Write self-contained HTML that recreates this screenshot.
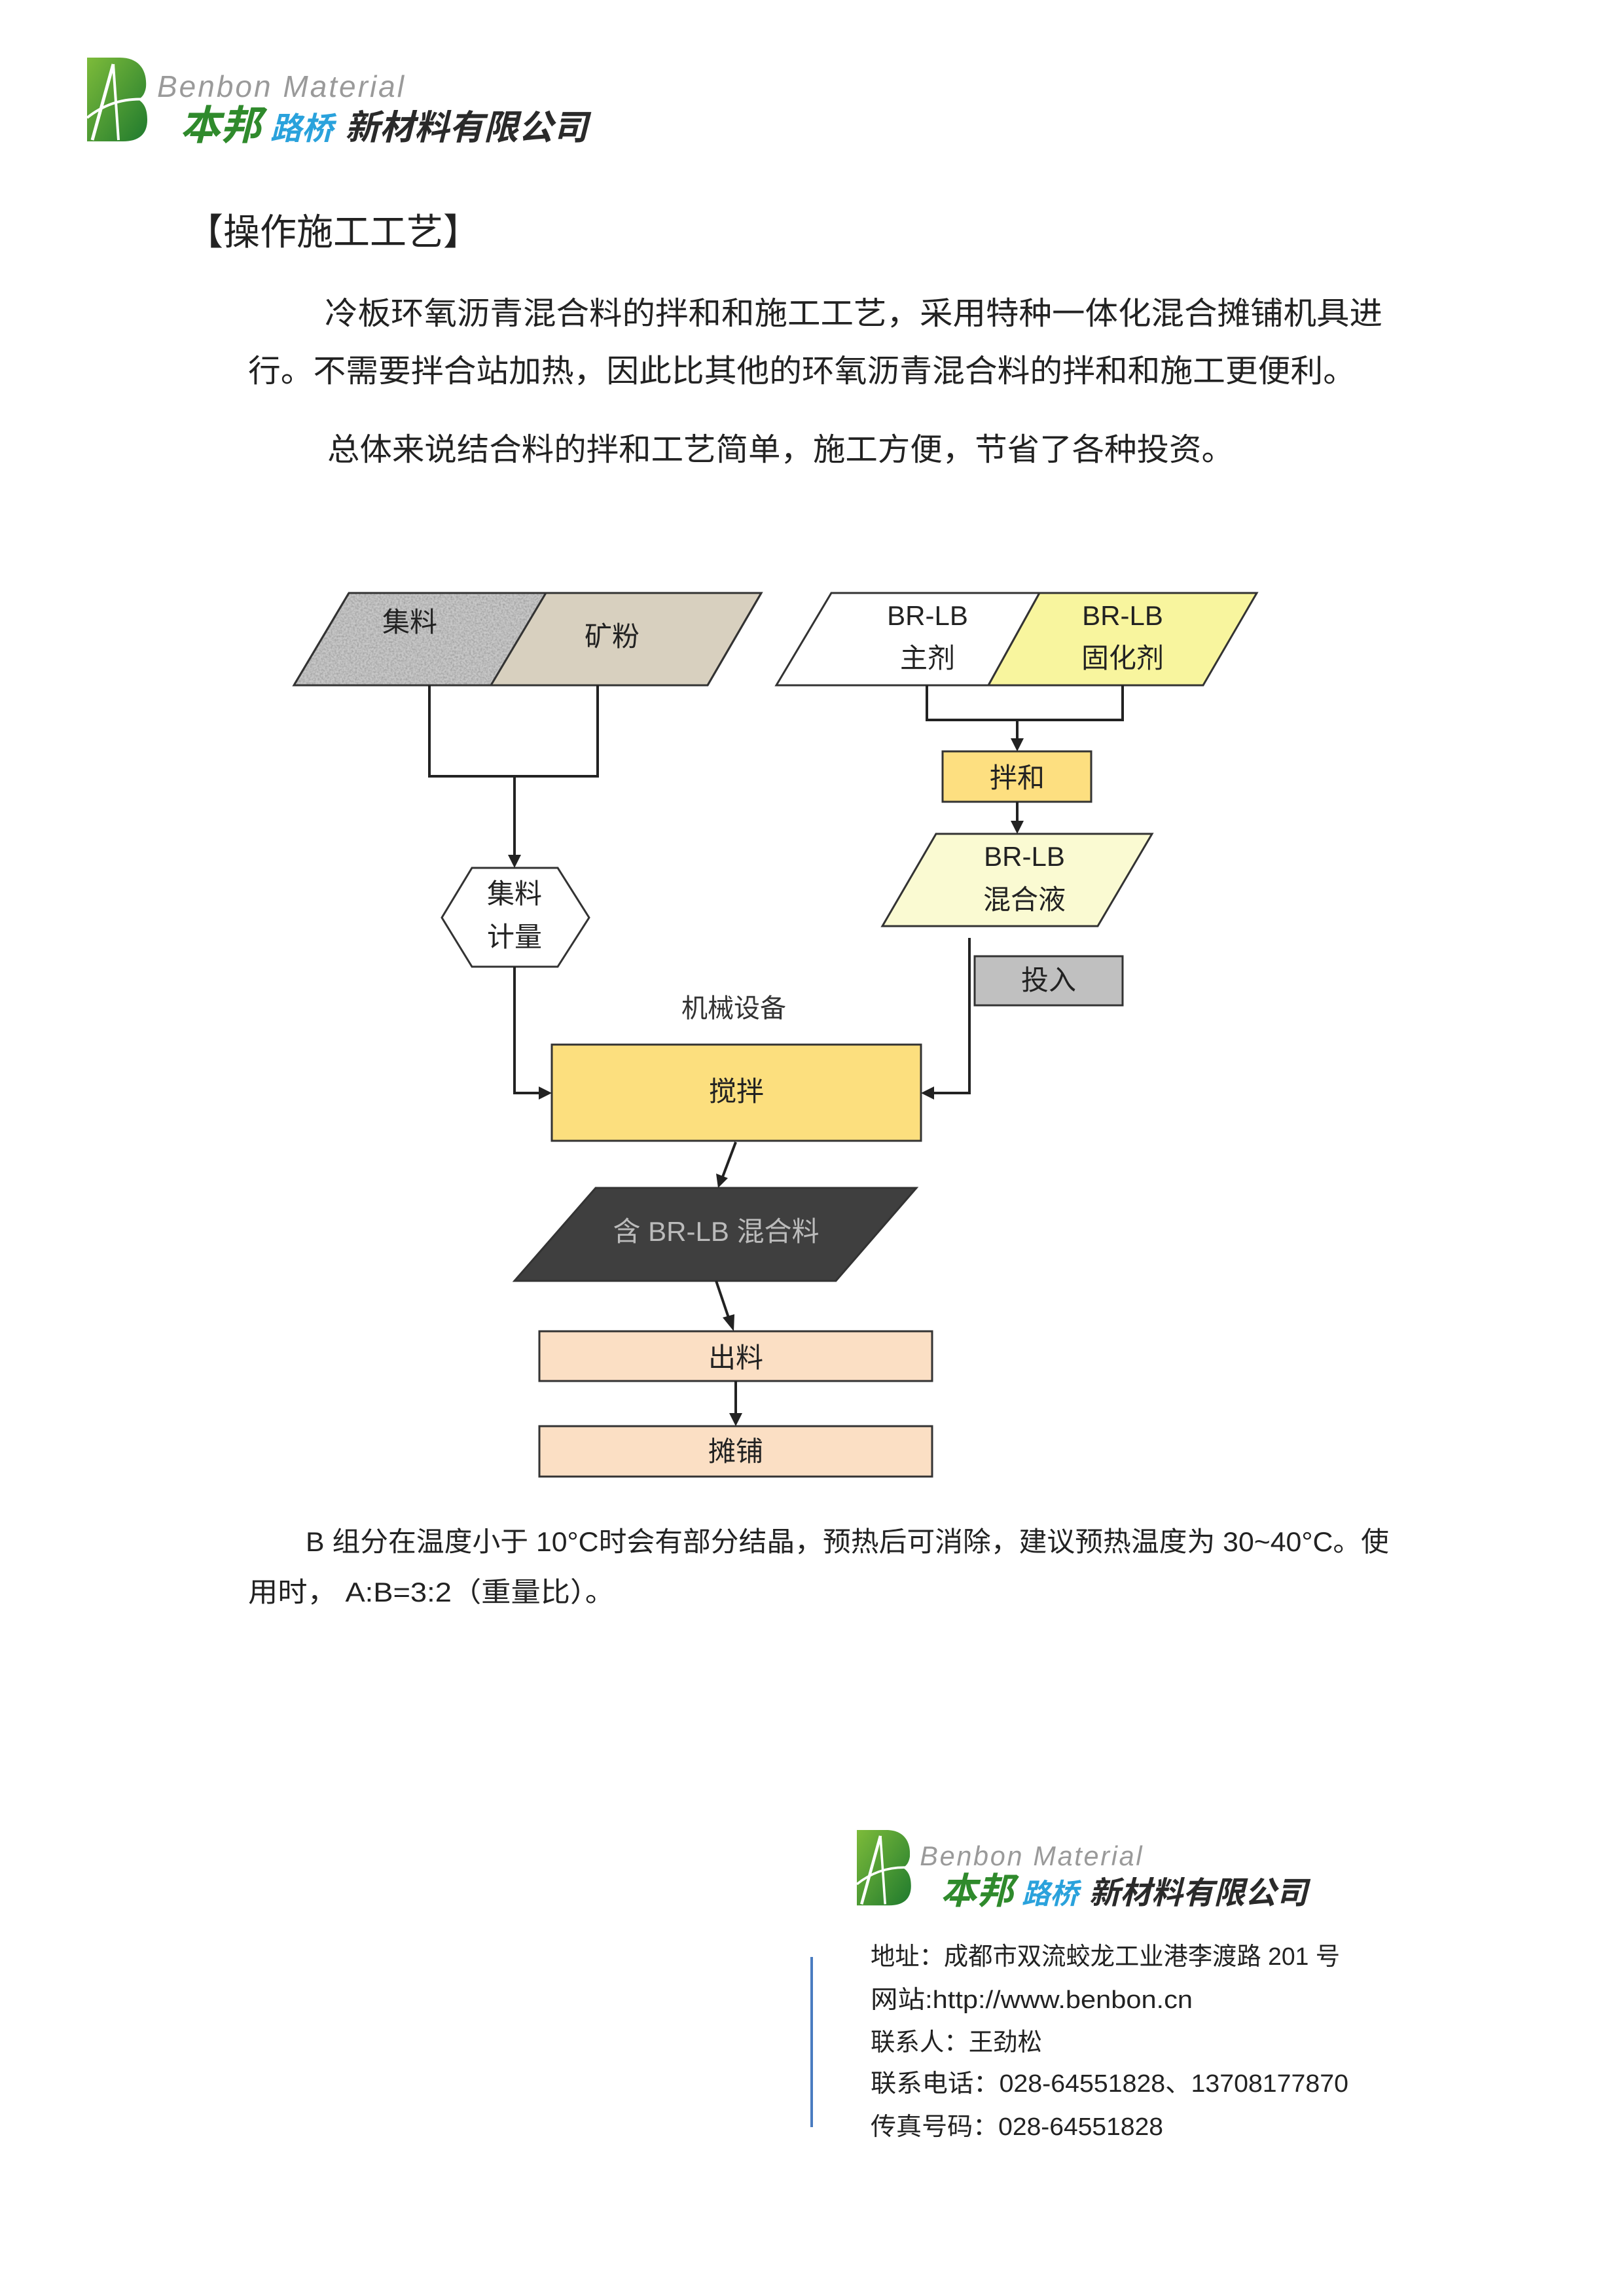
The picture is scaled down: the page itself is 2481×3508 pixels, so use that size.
<!DOCTYPE html>
<html><head><meta charset="utf-8"><style>
html,body{margin:0;padding:0;background:#fff}
svg{display:block}
text{font-family:"Liberation Sans","Noto Sans CJK SC",sans-serif}
</style></head><body>
<svg width="2481" height="3508" viewBox="0 0 2481 3508" xmlns="http://www.w3.org/2000/svg">
<defs>
<linearGradient id="lg" x1="0" y1="0" x2="1" y2="1"><stop offset="0" stop-color="#7dbb3a"/><stop offset="1" stop-color="#1f7a2e"/></linearGradient>
<filter id="gran" x="0" y="0" width="100%" height="100%">
<feTurbulence type="fractalNoise" baseFrequency="0.35" numOctaves="2" seed="3"/>
<feColorMatrix type="matrix" values="0 0 0 0 0.55  0 0 0 0 0.55  0 0 0 0 0.55  0 0 0 -1.6 1.1"/>
<feComposite in2="SourceGraphic" operator="in"/>
<feBlend in2="SourceGraphic" mode="multiply"/>
</filter>
<g id="logo">
  <path d="M0,0 H50 C80,0 92,20 90,45 C88,58 82,62 78,64 C88,70 92,80 92,95 C92,118 78,128 55,128 H0 Z" fill="url(#lg)"/>
  <path d="M8,126 L40,10" stroke="#fff" stroke-width="5" fill="none"/>
  <path d="M40,10 L48,126" stroke="#fff" stroke-width="4" fill="none"/>
  <path d="M0,92 Q40,60 92,64" stroke="#fff" stroke-width="4" fill="none"/>
  <text x="107" y="60" font-size="46" font-style="italic" fill="#9a9a9a" letter-spacing="3">Benbon Material</text>
  <text x="142" y="125" font-size="62" font-weight="bold" font-style="italic" fill="#2f8a2c">本邦</text>
  <text x="280" y="125" font-size="48" font-weight="bold" font-style="italic" fill="#2aa2dc">路桥</text>
  <text x="394" y="125" font-size="53" font-weight="bold" font-style="italic" fill="#2a2a2a">新材料有限公司</text>
</g>
</defs>

<use href="#logo" x="133" y="88"/>
<g transform="translate(1309,2796) scale(0.9)"><use href="#logo"/></g>

<text x="285" y="374" font-size="56" fill="#222">【操作施工工艺】</text>
<text x="496" y="495" font-size="48" fill="#222" textLength="1616" lengthAdjust="spacingAndGlyphs">冷板环氧沥青混合料的拌和和施工工艺，采用特种一体化混合摊铺机具进</text>
<text x="379" y="583" font-size="48" fill="#222" textLength="1692" lengthAdjust="spacingAndGlyphs">行。不需要拌合站加热，因此比其他的环氧沥青混合料的拌和和施工更便利。</text>
<text x="500" y="703" font-size="48" fill="#222" textLength="1385" lengthAdjust="spacingAndGlyphs">总体来说结合料的拌和工艺简单，施工方便，节省了各种投资。</text>

<g stroke="#333" stroke-width="3">
  <polygon points="533,906 834,906 750,1047 449,1047" fill="#c8c8c8" filter="url(#gran)"/>
  <polygon points="834,906 1163,906 1081,1047 750,1047" fill="#d8d0bf"/>
  <polygon points="533,906 1163,906 1081,1047 449,1047" fill="none"/>
  <polygon points="1270,906 1588,906 1510,1047 1186,1047" fill="#fff"/>
  <polygon points="1588,906 1920,906 1838,1047 1510,1047" fill="#f8f59e"/>
  <rect x="1440" y="1148" width="227" height="77" fill="#fddf80"/>
  <polygon points="1430,1274 1760,1274 1677,1415 1348,1415" fill="#fafad2"/>
  <polygon points="675,1402 721,1326 852,1326 900,1402 852,1477 721,1477" fill="#fff"/>
  <rect x="1489" y="1461" width="226" height="75" fill="#c0c0c0"/>
  <rect x="843" y="1596" width="564" height="147" fill="#fcdf7e"/>
  <polygon points="910,1815 1400,1815 1277,1957 786,1957" fill="#3f3f3f"/>
  <rect x="824" y="2034" width="600" height="76" fill="#fbdfc4"/>
  <rect x="824" y="2179" width="600" height="77" fill="#fbdfc4"/>
</g>
<g stroke="#222" stroke-width="4" fill="none">
  <polyline points="656,1047 656,1186 913,1186 913,1047"/>
  <line x1="786" y1="1186" x2="786" y2="1308"/>
  <polyline points="786,1477 786,1670 825,1670"/>
  <polyline points="1416,1047 1416,1100 1715,1100 1715,1047"/>
  <line x1="1554" y1="1100" x2="1554" y2="1130"/>
  <line x1="1554" y1="1225" x2="1554" y2="1256"/>
  <polyline points="1481,1433 1481,1670 1425,1670"/>
  <line x1="1124" y1="1745" x2="1104" y2="1798"/>
  <line x1="1094" y1="1957" x2="1114" y2="2016"/>
  <line x1="1124" y1="2110" x2="1124" y2="2161"/>
</g>
<g fill="#222">
  <polygon points="776,1306 796,1306 786,1326"/>
  <polygon points="823,1660 823,1680 843,1670"/>
  <polygon points="1544,1128 1564,1128 1554,1148"/>
  <polygon points="1544,1254 1564,1254 1554,1274"/>
  <polygon points="1427,1660 1427,1680 1407,1670"/>
  <polygon points="1094,1793 1112,1800 1097,1815"/>
  <polygon points="1104,2013 1122,2008 1121,2034"/>
  <polygon points="1114,2159 1134,2159 1124,2179"/>
</g>
<g font-size="42" fill="#222" text-anchor="middle">
  <text x="626" y="965">集料</text>
  <text x="935" y="987">矿粉</text>
  <text x="1417" y="955">BR-LB</text>
  <text x="1417" y="1020">主剂</text>
  <text x="1715" y="955">BR-LB</text>
  <text x="1715" y="1020">固化剂</text>
  <text x="1554" y="1203">拌和</text>
  <text x="1565" y="1323">BR-LB</text>
  <text x="1565" y="1389">混合液</text>
  <text x="786" y="1380">集料</text>
  <text x="786" y="1446">计量</text>
  <text x="1602" y="1512">投入</text>
  <text x="1121" y="1554" font-size="40" fill="#333">机械设备</text>
  <text x="1125" y="1682">搅拌</text>
  <text x="1094" y="1896" fill="#bbb">含 BR-LB 混合料</text>
  <text x="1124" y="2089">出料</text>
  <text x="1124" y="2232">摊铺</text>
</g>

<text x="467" y="2370" font-size="42" fill="#222" textLength="1655" lengthAdjust="spacingAndGlyphs">B 组分在温度小于 10°C时会有部分结晶，预热后可消除，建议预热温度为 30~40°C。使</text>
<text x="379" y="2447" font-size="42" fill="#222" textLength="560" lengthAdjust="spacingAndGlyphs">用时，  A:B=3:2（重量比）。</text>

<line x1="1240" y1="2990" x2="1240" y2="3250" stroke="#4a7cc0" stroke-width="4"/>
<g font-size="38" fill="#222">
  <text x="1330" y="3002" textLength="717" lengthAdjust="spacingAndGlyphs">地址：成都市双流蛟龙工业港李渡路 201 号</text>
  <text x="1330" y="3068" textLength="492" lengthAdjust="spacingAndGlyphs">网站:http://www.benbon.cn</text>
  <text x="1330" y="3133" textLength="262" lengthAdjust="spacingAndGlyphs">联系人：王劲松</text>
  <text x="1330" y="3196" textLength="730" lengthAdjust="spacingAndGlyphs">联系电话：028-64551828、13708177870</text>
  <text x="1330" y="3262" textLength="447" lengthAdjust="spacingAndGlyphs">传真号码：028-64551828</text>
</g>
</svg>
</body></html>
